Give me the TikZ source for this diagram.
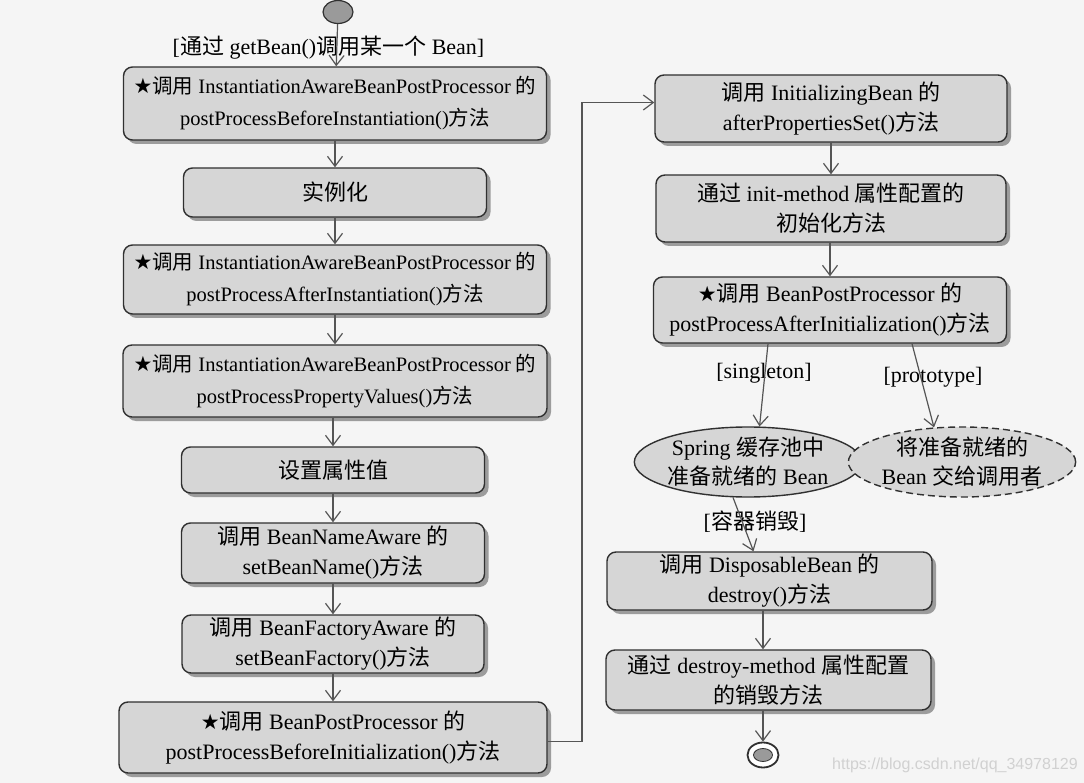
\documentclass[tikz,border=0pt]{standalone}
\usepackage{fontspec}
\setmainfont{Liberation Serif}
\newfontfamily\cjk{Noto Sans CJK SC}
\newfontfamily\symf{DejaVu Sans}
\newfontfamily\wmfont{Liberation Sans}
\newcommand\zw[1]{{\cjk #1}}
\newcommand\st{{\symf\fontsize{21}{21}\selectfont ★}}
\usetikzlibrary{arrows.meta,shapes.geometric,shadows}
\definecolor{bgc}{HTML}{F5F5F5}
\definecolor{boxc}{HTML}{D6D6D6}
\definecolor{shc}{HTML}{9C9C9C}
\definecolor{bordc}{HTML}{303030}
\definecolor{linec}{HTML}{555555}
\definecolor{startc}{HTML}{9A9A9A}
\tikzset{
  box/.style={draw=bordc, line width=1.4pt, fill=boxc, rounded corners=9pt,
    drop shadow={shadow xshift=4pt,shadow yshift=-4pt,fill=shc,opacity=1},
    align=center, inner sep=0pt, font=\fontsize{22}{30}\selectfont},
  widebox/.style={box, font=\fontsize{20.5}{32}\selectfont},
  oval/.style={ellipse, draw=bordc, line width=1.4pt, fill=boxc, align=center,
    inner sep=0pt, minimum width=200pt, minimum height=70pt,
    font=\fontsize{22}{29}\selectfont},
  arr/.style={draw=linec, line width=1.2pt, -{Straight Barb[length=10pt,width=15pt]}},
  lbl/.style={font=\fontsize{22}{25}\selectfont, inner sep=1pt}
}
\begin{document}
\begin{tikzpicture}[x=1pt,y=-1pt]
\fill[bgc] (0,0) rectangle (1084,783);
\useasboundingbox (0,0) rectangle (1084,783);

% start
\node[draw=bordc, line width=1.2pt, fill=startc, ellipse, minimum width=30pt, minimum height=23pt, inner sep=0pt] (S) at (338,12) {};
\node[lbl] (L0) at (328.5,48) {[\zw{通过} getBean()\zw{调用某一个} Bean]};

% left column
\node[widebox, minimum width=423pt, minimum height=73pt] (B1) at (335,103.5)
  {\st\zw{调用} InstantiationAwareBeanPostProcessor \zw{的}\\postProcessBeforeInstantiation()\zw{方法}};
\node[box, minimum width=303pt, minimum height=49pt] (B2) at (335,192.5) {\zw{实例化}};
\node[widebox, minimum width=423pt, minimum height=69pt] (B3) at (335,279.5)
  {\st\zw{调用} InstantiationAwareBeanPostProcessor \zw{的}\\postProcessAfterInstantiation()\zw{方法}};
\node[widebox, minimum width=424pt, minimum height=72pt] (B4) at (335,381)
  {\st\zw{调用} InstantiationAwareBeanPostProcessor \zw{的}\\postProcessPropertyValues()\zw{方法}};
\node[box, minimum width=303pt, minimum height=46pt] (B5) at (333,470) {\zw{设置属性值}};
\node[box, minimum width=303pt, minimum height=60pt] (B6) at (333,553)
  {\zw{调用} BeanNameAware \zw{的}\\setBeanName()\zw{方法}};
\node[box, minimum width=302pt, minimum height=58pt] (B7) at (333,644)
  {\zw{调用} BeanFactoryAware \zw{的}\\setBeanFactory()\zw{方法}};
\node[box, minimum width=428pt, minimum height=71pt] (B8) at (333,737.5)
  {\st\zw{调用} BeanPostProcessor \zw{的}\\postProcessBeforeInitialization()\zw{方法}};

% right column
\node[box, minimum width=352pt, minimum height=67pt] (R1) at (831,108.5)
  {\zw{调用} InitializingBean \zw{的}\\afterPropertiesSet()\zw{方法}};
\node[box, minimum width=350pt, minimum height=67pt] (R2) at (831,208.5)
  {\zw{通过} init-method \zw{属性配置的}\\\zw{初始化方法}};
\node[box, minimum width=353pt, minimum height=66pt] (R3) at (830,310)
  {\st\zw{调用} BeanPostProcessor \zw{的}\\postProcessAfterInitialization()\zw{方法}};
\node[oval] (E1) at (748,462) {Spring \zw{缓存池中}\\\zw{准备就绪的} Bean};
\node[oval, dashed, dash pattern=on 7pt off 4pt] (E2) at (962,462) {\zw{将准备就绪的}\\Bean \zw{交给调用者}};
\node[box, minimum width=325pt, minimum height=58pt] (D1) at (769.5,581)
  {\zw{调用} DisposableBean \zw{的}\\destroy()\zw{方法}};
\node[box, minimum width=325pt, minimum height=60pt] (D2) at (768.5,680)
  {\zw{通过} destroy-method \zw{属性配置}\\\zw{的销毁方法}};
\node[draw=bordc, line width=1.8pt, fill=white, ellipse, minimum width=31pt, minimum height=25pt, inner sep=0pt] (End) at (763,755) {};
\node[draw=bordc, line width=0.8pt, fill=startc, ellipse, minimum width=19pt, minimum height=13pt, inner sep=0pt] (EndIn) at (763,755) {};

% labels
\node[lbl] (Ls) at (764,373) {[singleton]};
\node[lbl] (Lp) at (933,377) {[prototype]};
\node[lbl] (Ld) at (755,522) {[\zw{容器销毁}]};

% connectors
\draw[arr] (S) -- (B1);
\draw[arr] (B1) -- (B2);
\draw[arr] (B2) -- (B3);
\draw[arr] (B3) -- (B4);
\draw[arr] (B4.south -| B5) -- (B5);
\draw[arr] (B5) -- (B6);
\draw[arr] (B6) -- (B7);
\draw[arr] (B7) -- (B8);
\coordinate (turn) at (582,0);
\coordinate (inR1) at ([yshift=6pt]R1.west);
\draw[arr] ([yshift=-4pt]B8.east) -| (turn |- inR1) -- (inR1);
\draw[arr] (R1) -- (R2);
\draw[arr] (R2.south -| R3) -- (R3);
\draw[arr] ([xshift=-62pt]R3.south) -- (E1.72);
\draw[arr] ([xshift=82pt]R3.south) -- (E2.129);
\draw[arr] (E1.247) -- ([xshift=-16pt]D1.north);
\draw[arr] (D1.south -| End) -- (D2.north -| End);
\draw[arr] (D2.south -| End) -- (End);

% watermark
\node[anchor=west, text=black!18, font=\wmfont\fontsize{16}{16}\selectfont, inner sep=0pt] (wm) at (832,765) {https://blog.csdn.net/qq\_34978129};
\end{tikzpicture}
\end{document}
